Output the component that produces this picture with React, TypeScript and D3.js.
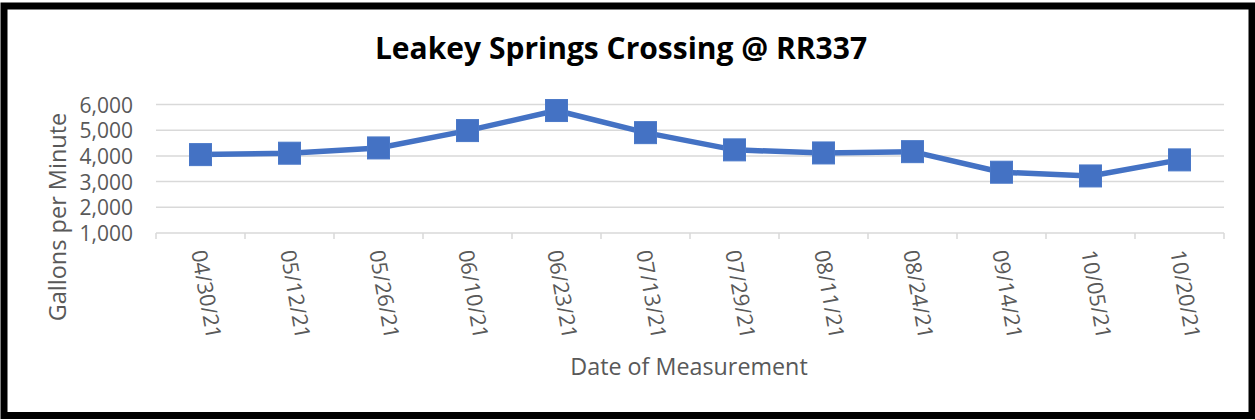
import React from "react";
import * as d3 from "d3";

const title = "Leakey Springs Crossing @ RR337";
const dates = ["04/30/21", "05/12/21", "05/26/21", "06/10/21", "06/23/21", "07/13/21", "07/29/21", "08/11/21", "08/24/21", "09/14/21", "10/05/21", "10/20/21"];
const flows = [4050, 4105, 4310, 4985, 5765, 4905, 4235, 4115, 4165, 3365, 3220, 3845];
const yTicks = [1000, 2000, 3000, 4000, 5000, 6000];
const yTitle = "Gallons per Minute";
const xTitle = "Date of Measurement";

const W = 1255, H = 420;
const left = 156, right = 1224, top = 104.5, bottom = 233;
const font = "'Open Sans', 'Noto Sans', sans-serif";
const grey = "#595959";
const blue = "#4472C4";

export default function App() {
  const x = d3.scaleBand<string>().domain(dates).range([left, right]);
  const y = d3.scaleLinear().domain([1000, 6000]).range([bottom, top]);
  const line = d3.line<number>()
    .x((_, i) => (x(dates[i]) as number) + x.bandwidth() / 2)
    .y((d) => y(d));
  const boundaries = dates.map((d) => x(d) as number).concat([right]);
  const ms = 22;
  return (
    <svg width={W} height={H} style={{ position: "absolute", left: 0, top: 0, display: "block" }}>
      <rect x={0} y={0} width={W} height={H} fill="white" />
      <rect x={4} y={6} width={1248} height={409.5} fill="white" stroke="#000" strokeWidth={7} />
      <text x={621} y={59} textAnchor="middle" fontFamily={font} fontWeight="bold" fontSize={30} fill="#000">{title}</text>
      {yTicks.slice(1).map((t) => (
        <line key={t} x1={left} x2={right} y1={y(t)} y2={y(t)} stroke="#d9d9d9" strokeWidth={1.5} />
      ))}
      <line x1={left} x2={right} y1={bottom} y2={bottom} stroke="#d9d9d9" strokeWidth={1.5} />
      {boundaries.map((b, i) => (
        <line key={i} x1={b} x2={b} y1={bottom} y2={bottom + 6} stroke="#d9d9d9" strokeWidth={1.5} />
      ))}
      {yTicks.map((t) => (
        <text key={t} x={133} y={y(t)} textAnchor="end" dominantBaseline="central" fontFamily={font} fontSize={21} fill={grey}>{d3.format(",")(t)}</text>
      ))}
      {dates.map((d) => {
        const cx = (x(d) as number) + x.bandwidth() / 2;
        return (
          <text key={d} transform={`translate(${cx - 1},${250}) rotate(80)`} textAnchor="start" dominantBaseline="central" fontFamily={font} fontSize={21.5} fill={grey}>{d}</text>
        );
      })}
      <text transform={`translate(57,217) rotate(-90)`} textAnchor="middle" dominantBaseline="central" fontFamily={font} fontSize={23.5} fill={grey}>{yTitle}</text>
      <text x={689} y={375} textAnchor="middle" fontFamily={font} fontSize={23.3} fill={grey}>{xTitle}</text>
      <path d={line(flows) || ""} fill="none" stroke={blue} strokeWidth={5.5} strokeLinejoin="round" />
      {flows.map((v, i) => {
        const cx = (x(dates[i]) as number) + x.bandwidth() / 2;
        return <rect key={i} x={cx - ms / 2} y={y(v) - ms / 2} width={ms} height={ms} fill={blue} stroke="#4a78c8" strokeWidth={1} />;
      })}
    </svg>
  );
}
